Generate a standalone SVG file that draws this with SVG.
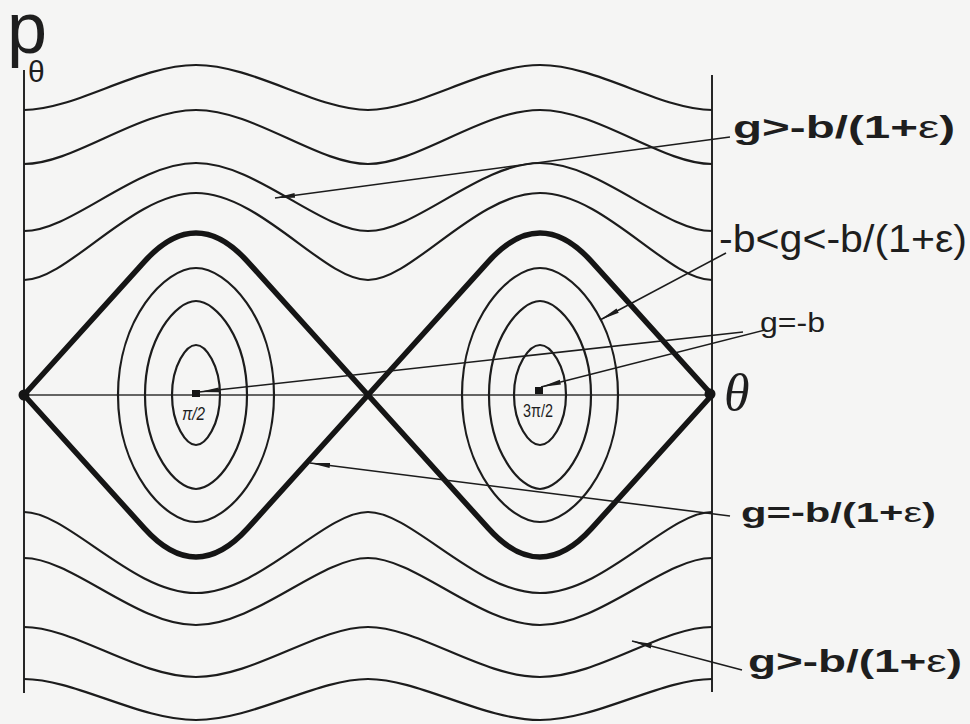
<svg xmlns="http://www.w3.org/2000/svg" width="970" height="724" viewBox="0 0 970 724">
<defs>
<style>
.bg{fill:#f5f5f4}
.ax{stroke:#262626;stroke-width:2;fill:none}
.axh{stroke:#333;stroke-width:1.5;fill:none}
.orb{stroke:#1c1c1c;stroke-width:2.2;fill:none;stroke-linejoin:round}
.sep{stroke:#151515;stroke-width:5.5;fill:none;stroke-linejoin:round}
.ptr{stroke:#1c1c1c;stroke-width:1.6;fill:none}
.lbl{font-family:"Liberation Sans",Arial,sans-serif;fill:#1e1e1e}
.b{font-weight:bold}
</style>
<marker id="arr" markerUnits="userSpaceOnUse" markerWidth="22" markerHeight="8" refX="20" refY="4" orient="auto">
<path d="M0,1.6 L20,4 L0,6.4 Z" fill="#1c1c1c"/>
</marker>
</defs>
<rect class="bg" x="0" y="0" width="970" height="724"/>

<g id="axes">
<line class="ax" x1="24" y1="70" x2="24" y2="693"/>
<line class="ax" x1="712" y1="75" x2="712" y2="692"/>
<line class="axh" x1="24" y1="395" x2="712" y2="395"/>
<circle cx="24" cy="395" r="5.5" fill="#151515"/>
<circle cx="710" cy="394" r="5.5" fill="#151515"/>
</g>

<g id="open-orbits">
<path class="orb" d="M24,110 C75,110 139,65 196,65 C253,65 317,110 368,110 C419,110 483,65 540,65 C597,65 661,110 712,110"/>
<path class="orb" d="M24,164 C74,164 138,110 196,110 C254,110 318,164 368,164 C418,164 482,110 540,110 C598,110 662,164 712,164"/>
<path class="orb" d="M24,231 C72,231 136,163 196,163 C256,163 320,231 368,231 C416,231 480,163 540,163 C600,163 664,231 712,231"/>
<path class="orb" d="M24,280 C68,280 132,193 196,193 C260,193 324,280 368,280 C412,280 476,193 540,193 C604,193 668,280 712,280"/>
<path class="orb" d="M24,512 C68,512 132,593 196,593 C260,593 324,512 368,512 C412,512 476,593 540,593 C604,593 668,512 712,512"/>
<path class="orb" d="M24,558 C72,558 136,625 196,625 C256,625 320,558 368,558 C416,558 480,625 540,625 C600,625 664,558 712,558"/>
<path class="orb" d="M24,627 C74,627 138,677 196,677 C254,677 318,627 368,627 C418,627 482,677 540,677 C598,677 662,627 712,627"/>
<path class="orb" d="M24,679 C75,679 139,720 196,720 C253,720 317,679 368,679 C419,679 483,720 540,720 C597,720 661,679 712,679"/>
</g>

<g id="closed-orbits">
<path class="orb" d="M196,345 C205.6,345 220,365 220,395 C220,425 205.6,445 196,445 C186.4,445 172,425 172,395 C172,365 186.4,345 196,345Z"/>
<path class="orb" d="M196,301 C216.4,301 247,338.6 247,395 C247,451.4 216.4,489 196,489 C175.6,489 145,451.4 145,395 C145,338.6 175.6,301 196,301Z"/>
<path class="orb" d="M196,268 C227.2,268 274,318.8 274,395 C274,471.2 227.2,522 196,522 C164.8,522 118,471.2 118,395 C118,318.8 164.8,268 196,268Z"/>
<path class="orb" d="M540,345 C550.4,345 566,365 566,395 C566,425 550.4,445 540,445 C529.6,445 514,425 514,395 C514,365 529.6,345 540,345Z"/>
<path class="orb" d="M540,301 C560,301 591,338.6 591,395 C591,451.4 560,489 540,489 C520,489 489,451.4 489,395 C489,338.6 520,301 540,301Z"/>
<path class="orb" d="M540,268 C571.2,268 618,318.8 618,395 C618,471.2 571.2,522 540,522 C508.8,522 462,471.2 462,395 C462,318.8 508.8,268 540,268Z"/>
<rect x="192" y="390" width="8" height="7" fill="#151515"/>
<rect x="535" y="387" width="8" height="7" fill="#151515"/>
</g>

<g id="separatrix">
<path class="sep" d="M24,395 L144.4,261.6 Q170.2,233 196,233 Q221.8,233 247.6,261.6 L368,395 L488.4,261.6 Q514.2,233 540,233 Q565.8,233 591.6,261.6 L712,395"/>
<path class="sep" d="M24,395 L144.4,528.4 Q170.2,557 196,557 Q221.8,557 247.6,528.4 L368,395 L488.4,528.4 Q514.2,557 540,557 Q565.8,557 591.6,528.4 L712,395"/>
</g>

<g id="connectors">
<line class="ptr" x1="730" y1="137" x2="275" y2="198" marker-end="url(#arr)"/>
<line class="ptr" x1="726" y1="253" x2="600" y2="320" marker-end="url(#arr)"/>
<line class="ptr" x1="743" y1="332" x2="199" y2="392" marker-end="url(#arr)"/>
<line class="ptr" x1="765" y1="330" x2="541" y2="387" marker-end="url(#arr)"/>
<line class="ptr" x1="730" y1="516" x2="310" y2="463" marker-end="url(#arr)"/>
<line class="ptr" x1="742" y1="670" x2="632" y2="641" marker-end="url(#arr)"/>
</g>

<g id="axis-labels">
<text class="lbl" x="7" y="53" font-size="72">p</text>
<text class="lbl" x="28" y="82" font-size="30">θ</text>
<text x="724" y="410" font-size="52" font-family="'Liberation Serif','Times New Roman',serif" font-style="italic" fill="#1e1e1e">θ</text>
<text class="lbl" x="182" y="420" font-size="18" font-style="italic" textLength="23" lengthAdjust="spacingAndGlyphs">π/2</text>
<text class="lbl" x="523" y="417" font-size="18" textLength="30" lengthAdjust="spacingAndGlyphs">3π/2</text>
</g>

<g id="label-g-gt-top">
<text class="lbl b" x="733" y="138" font-size="31" textLength="222" lengthAdjust="spacingAndGlyphs">g&gt;-b/(1+<tspan font-weight="normal">ε</tspan>)</text>
</g>
<g id="label-between">
<text class="lbl" x="719" y="252" font-size="38" textLength="248" lengthAdjust="spacingAndGlyphs">-b&lt;g&lt;-b/(1+ε)</text>
</g>
<g id="label-g-eq-b">
<text class="lbl" x="760" y="332" font-size="27" textLength="65" lengthAdjust="spacingAndGlyphs">g=-b</text>
</g>
<g id="label-g-eq">
<text class="lbl b" x="741" y="522" font-size="27" textLength="195" lengthAdjust="spacingAndGlyphs">g=-b/(1+<tspan font-weight="normal">ε</tspan>)</text>
</g>
<g id="label-g-gt-bottom">
<text class="lbl b" x="748" y="672" font-size="32" textLength="214" lengthAdjust="spacingAndGlyphs">g&gt;-b/(1+<tspan font-weight="normal">ε</tspan>)</text>
</g>
</svg>
